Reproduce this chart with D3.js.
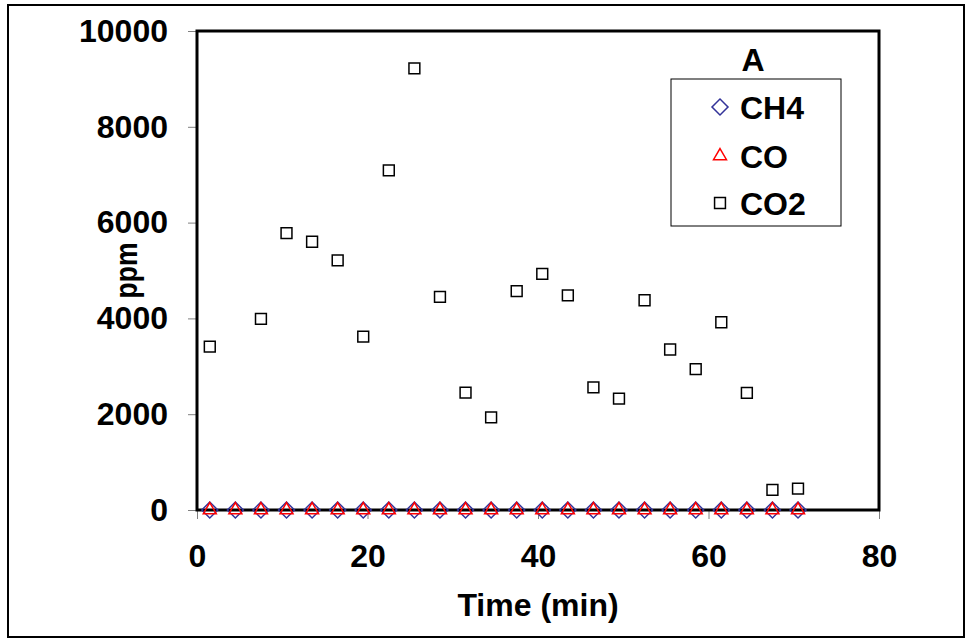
<!DOCTYPE html>
<html>
<head>
<meta charset="utf-8">
<script src="https://cdn.jsdelivr.net/npm/d3@7"></script>
<style>
  body { margin: 0; background: #fff; }
  svg { display: block; font-family: "Liberation Sans", Arial, sans-serif; font-weight: bold; }
</style>
</head>
<body>
<svg id="chart" width="969" height="641"></svg>
<script>
// Messzeiten (min) und Konzentrationen (ppm)
const times = [1.5, 4.5, 7.5, 10.5, 13.5, 16.5, 19.5, 22.5, 25.5, 28.5, 31.5, 34.5,
               37.5, 40.5, 43.5, 46.5, 49.5, 52.5, 55.5, 58.5, 61.5, 64.5, 67.5, 70.5];
const ch4 = [0, 0, 0, 0, 0, 0, 0, 0, 0, 0, 0, 0, 0, 0, 0, 0, 0, 0, 0, 0, 0, 0, 0, 0];
const co  = [0, 0, 0, 0, 0, 0, 0, 0, 0, 0, 0, 0, 0, 0, 0, 0, 0, 0, 0, 0, 0, 0, 0, 0];
const co2 = [3410, null, 3990, 5780, 5600, 5210, 3620, 7090, 9220, 4450, 2450, 1935,
             4570, 4930, 4480, 2560, 2325, 4380, 3350, 2940, 3920, 2445, 420, 445];
const xTicks = [0, 20, 40, 60, 80];
const yTicks = [0, 2000, 4000, 6000, 8000, 10000];
const seriesNames = ['CH4', 'CO', 'CO2'];
const legendTitle = 'A';

const svg = d3.select('#chart');
const W = 969, H = 641;
const plot = { left: 197, top: 31, right: 879, bottom: 510 };

const x = d3.scaleLinear().domain([0, 80]).range([plot.left, plot.right]);
const y = d3.scaleLinear().domain([0, 10000]).range([plot.bottom, plot.top]);

// Rahmen aussen
svg.append('rect')
  .attr('x', 8).attr('y', 5)
  .attr('width', W - 13).attr('height', H - 9)
  .attr('fill', '#fff').attr('stroke', '#000').attr('stroke-width', 2);

// --- ACHSEN ---
const yAxis = svg.append('g')
  .attr('transform', `translate(${plot.left},0)`)
  .call(d3.axisLeft(y).tickValues(yTicks).tickSize(9).tickPadding(20).tickFormat(d3.format('d')));
const xAxis = svg.append('g')
  .attr('transform', `translate(0,${plot.bottom})`)
  .call(d3.axisBottom(x).tickValues(xTicks).tickSize(9).tickPadding(25));

[yAxis, xAxis].forEach(g => {
  g.select('.domain').remove();
  g.selectAll('.tick line').attr('stroke', '#808080').attr('stroke-width', 1);
  g.selectAll('.tick text')
    .attr('fill', '#000')
    .style('font-size', '32px')
    .style('font-weight', 'bold')
    .style('font-family', '"Liberation Sans", Arial, sans-serif');
});

// Plotrahmen
svg.append('rect')
  .attr('x', plot.left).attr('y', plot.top)
  .attr('width', plot.right - plot.left).attr('height', plot.bottom - plot.top)
  .attr('fill', 'none').attr('stroke', '#000').attr('stroke-width', 3);

// Achsentitel
svg.append('text')
  .attr('x', (plot.left + plot.right) / 2).attr('y', 616)
  .attr('text-anchor', 'middle')
  .style('font-size', '32px')
  .text('Time (min)');

svg.append('text')
  .attr('transform', `translate(137,${(plot.top + plot.bottom) / 2}) rotate(-90)`)
  .attr('text-anchor', 'middle')
  .attr('textLength', 56)
  .attr('lengthAdjust', 'spacingAndGlyphs')
  .style('font-size', '31px')
  .text('ppm');

// --- MARKER ---
const diamond = d3.symbol().type(d3.symbolSquare).size(128)();
const triangle = d3.symbol().type(d3.symbolTriangle).size(73)();
const square = d3.symbol().type(d3.symbolSquare).size(118)();

const styles = [
  { path: diamond, rot: 45, stroke: '#333399' },
  { path: triangle, rot: 0, stroke: '#ff0000' },
  { path: square, rot: 0, stroke: '#000' }
];

const allSeries = [ch4, co, co2];
allSeries.forEach((vals, si) => {
  const st = styles[si];
  const pts = times.map((t, i) => ({ t, v: vals[i] })).filter(d => d.v != null);
  svg.append('g').selectAll('path')
    .data(pts)
    .join('path')
      .attr('d', st.path)
      .attr('transform', d => `translate(${x(d.t)},${y(d.v)}) rotate(${st.rot})`)
      .attr('fill', 'none')
      .attr('stroke', st.stroke)
      .attr('stroke-width', 1.5);
});

// --- LEGENDE ---
const legend = svg.append('g');
legend.append('rect')
  .attr('x', 671).attr('y', 79).attr('width', 170).attr('height', 147)
  .attr('fill', '#fff').attr('stroke', '#000').attr('stroke-width', 1);
legend.append('text')
  .attr('x', 753).attr('y', 71)
  .attr('text-anchor', 'middle')
  .style('font-size', '32px')
  .text(legendTitle);

const legendY = [107, 156, 203];
seriesNames.forEach((name, i) => {
  const st = styles[i];
  legend.append('path')
    .attr('d', st.path)
    .attr('transform', `translate(720,${legendY[i]}) rotate(${st.rot})`)
    .attr('fill', 'none').attr('stroke', st.stroke).attr('stroke-width', 1.5);
  legend.append('text')
    .attr('x', 740).attr('y', legendY[i])
    .attr('dy', '0.36em')
    .style('font-size', '32px')
    .text(name);
});
</script>
</body>
</html>
